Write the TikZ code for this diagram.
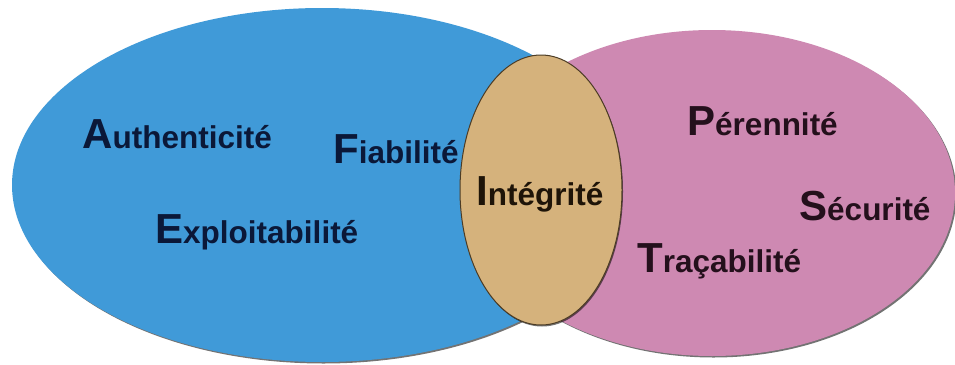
\documentclass[tikz,border=0pt]{standalone}
\usepackage{fontspec}
\setmainfont{Liberation Sans}
\definecolor{vennblue}{HTML}{409AD8}
\definecolor{vennpink}{HTML}{CE89B2}
\definecolor{venntan}{HTML}{D5B27C}
\definecolor{inkblue}{HTML}{0B1838}
\definecolor{inkpink}{HTML}{24101C}
\definecolor{inktan}{HTML}{1E1408}
\newcommand{\capword}[2]{{\fontsize{42}{42}\selectfont #1}{\fontsize{31.5}{31.5}\selectfont #2}}
\tikzset{
  lbl/.style={anchor=base west, inner sep=0pt, font=\bfseries},
  shade ring/.style={fill=black, opacity=0.55},
}
\begin{document}
\begin{tikzpicture}[x=1pt, y=-1pt]
  \useasboundingbox[fill=white] (0,0) rectangle (955,364);
  % left set
  \fill[shade ring] (323.5,186.5) ellipse [x radius=310, y radius=177];
  \fill[vennblue] (322,185) ellipse [x radius=310, y radius=177];
  % right set
  \fill[shade ring] (713.5,194.5) ellipse [x radius=243, y radius=163];
  \fill[vennpink] (712,193) ellipse [x radius=243, y radius=163];
  % intersection
  \fill[shade ring] (542,191.5) ellipse [x radius=81, y radius=135];
  \fill[venntan, draw=inktan!75!venntan, line width=1pt] (541,190) ellipse [x radius=81, y radius=135];

  \node[lbl, text=inkblue] (auth) at (82,148) {\capword{A}{uthenticité}};
  \node[lbl, text=inkblue] (fiab) at (333,163) {\capword{F}{iabilité}};
  \node[lbl, text=inkblue] (expl) at (155,243) {\capword{E}{xploitabilité}};
  \node[lbl, text=inktan] (integ) at (476,205) {\capword{I}{ntégrité}};
  \node[lbl, text=inkpink] (peren) at (687,135) {\capword{P}{érennité}};
  \node[lbl, text=inkpink] (secu) at (799,220) {\capword{S}{écurité}};
  \node[lbl, text=inkpink] (traca) at (637,272) {\capword{T}{raçabilité}};
\end{tikzpicture}
\end{document}
